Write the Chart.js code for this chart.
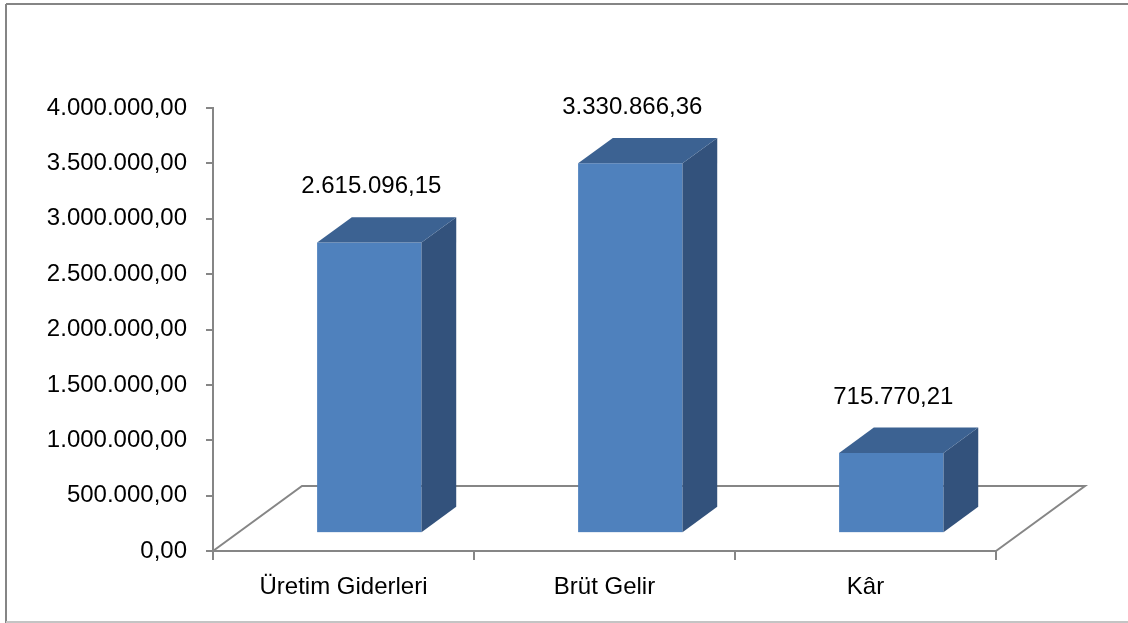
<!DOCTYPE html>
<html>
<head>
<meta charset="utf-8">
<script src="https://cdn.jsdelivr.net/npm/chart.js@4.4.1/dist/chart.umd.min.js"></script>
<style>
  html, body { margin: 0; padding: 0; background: #ffffff; }
  #wrap { width: 1128px; height: 623px; position: relative; }
</style>
</head>
<body>
<div id="wrap"><canvas id="c" width="1128" height="623"></canvas></div>
<script>
// Categories and values
const categories = ['Üretim Giderleri', 'Brüt Gelir', 'Kâr'];
const values = [2615096.15, 3330866.36, 715770.21];
const yMin = 0;
const yMax = 4000000;
const yStep = 500000;

// Style constants for the oblique 3D look
const FONT = '"Liberation Sans", Arial, sans-serif';
const FONT_SIZE = 24;
const AXIS_COLOR = '#868686';
const FACE_FRONT = '#4f81bd';
const FACE_TOP = '#3c6292';
const FACE_SIDE = '#33527c';
const FLOOR_DX = 89, FLOOR_DY = -65;   // depth vector of the floor
const BAR_FRONT = 0.29, BAR_BACK = 0.68; // bar position inside the floor depth
const LABEL_GAP = 56;

// Turkish number format: 1.234.567,89
function trNumber(v) {
  const fixed = Math.abs(v).toFixed(2);
  const [intPart, dec] = fixed.split('.');
  const grouped = intPart.replace(/\B(?=(\d{3})+(?!\d))/g, '.');
  return (v < 0 ? '-' : '') + grouped + ',' + dec;
}

const framePlugin = {
  id: 'frame',
  beforeDraw(chart) {
    const ctx = chart.ctx;
    ctx.save();
    ctx.fillStyle = '#ffffff';
    ctx.fillRect(0, 0, chart.width, chart.height);
    ctx.strokeStyle = '#858585';
    ctx.lineWidth = 2;
    ctx.beginPath();
    ctx.moveTo(6, 4); ctx.lineTo(chart.width, 4);
    ctx.moveTo(6, 4); ctx.lineTo(6, chart.height);
    ctx.stroke();
    ctx.strokeStyle = '#c4c4c4';
    ctx.beginPath();
    ctx.moveTo(6, 622); ctx.lineTo(chart.width, 622);
    ctx.stroke();
    ctx.restore();
  }
};

const bars3dPlugin = {
  id: 'bars3d',
  beforeDatasetsDraw(chart) {
    // floor outline (front edge is the x axis border)
    const { ctx, chartArea } = chart;
    const yS = chart.scales.y;
    const base = yS.getPixelForValue(0);
    ctx.save();
    ctx.strokeStyle = AXIS_COLOR;
    ctx.lineWidth = 2;
    ctx.beginPath();
    ctx.moveTo(chartArea.left, base);
    ctx.lineTo(chartArea.left + FLOOR_DX, base + FLOOR_DY);
    ctx.lineTo(chartArea.right + FLOOR_DX, base + FLOOR_DY);
    ctx.lineTo(chartArea.right, base);
    ctx.stroke();
    ctx.restore();
  },
  afterDatasetsDraw(chart) {
    const { ctx } = chart;
    const yS = chart.scales.y;
    const meta = chart.getDatasetMeta(0);
    const base = yS.getPixelForValue(0);
    const fx = FLOOR_DX * BAR_FRONT, fy = FLOOR_DY * BAR_FRONT;
    const dx = FLOOR_DX * (BAR_BACK - BAR_FRONT), dy = FLOOR_DY * (BAR_BACK - BAR_FRONT);
    ctx.save();
    meta.data.forEach((el, i) => {
      const v = values[i];
      const w = el.width;
      const left = el.x - w / 2 + fx;
      const right = left + w;
      const bottom = base + fy;
      const top = yS.getPixelForValue(v) + fy;
      // front
      ctx.fillStyle = FACE_FRONT;
      ctx.fillRect(left, top, w, bottom - top);
      // side
      ctx.fillStyle = FACE_SIDE;
      ctx.beginPath();
      ctx.moveTo(right, top);
      ctx.lineTo(right + dx, top + dy);
      ctx.lineTo(right + dx, bottom + dy);
      ctx.lineTo(right, bottom);
      ctx.closePath();
      ctx.fill();
      // top
      ctx.fillStyle = FACE_TOP;
      ctx.beginPath();
      ctx.moveTo(left, top);
      ctx.lineTo(left + dx, top + dy);
      ctx.lineTo(right + dx, top + dy);
      ctx.lineTo(right, top);
      ctx.closePath();
      ctx.fill();
      // value label
      ctx.fillStyle = '#000000';
      ctx.font = FONT_SIZE + 'px ' + FONT;
      ctx.textAlign = 'center';
      ctx.textBaseline = 'middle';
      ctx.fillText(trNumber(v), left + w / 2 + 2, top - LABEL_GAP);
    });
    ctx.restore();
  }
};

new Chart(document.getElementById('c'), {
  type: 'bar',
  data: {
    labels: categories,
    datasets: [{
      data: values,
      backgroundColor: 'rgba(0,0,0,0)',
      borderWidth: 0,
      categoryPercentage: 1.0,
      barPercentage: 0.4
    }]
  },
  options: {
    responsive: false,
    animation: false,
    events: [],
    layout: { padding: { left: 0, right: 132, top: 108, bottom: 0 } },
    plugins: { legend: { display: false }, tooltip: { enabled: false } },
    scales: {
      x: {
        offset: true,
        grid: { display: true, offset: true, drawOnChartArea: false, drawTicks: true, tickLength: 9, color: AXIS_COLOR, lineWidth: 2 },
        border: { display: true, color: AXIS_COLOR, width: 2 },
        ticks: { color: '#000000', font: { family: FONT, size: FONT_SIZE }, padding: 13, maxRotation: 0 },
        afterFit(scale) { scale.height = 72; }
      },
      y: {
        min: yMin, max: yMax,
        grid: { display: true, drawOnChartArea: false, drawTicks: true, tickLength: 7, color: AXIS_COLOR, lineWidth: 2 },
        border: { display: true, color: AXIS_COLOR, width: 2 },
        ticks: { stepSize: yStep, color: '#000000', font: { family: FONT, size: FONT_SIZE }, padding: 19, callback: v => trNumber(v) },
        afterFit(scale) { scale.width = 213; }
      }
    }
  },
  plugins: [framePlugin, bars3dPlugin]
});
</script>
</body>
</html>
